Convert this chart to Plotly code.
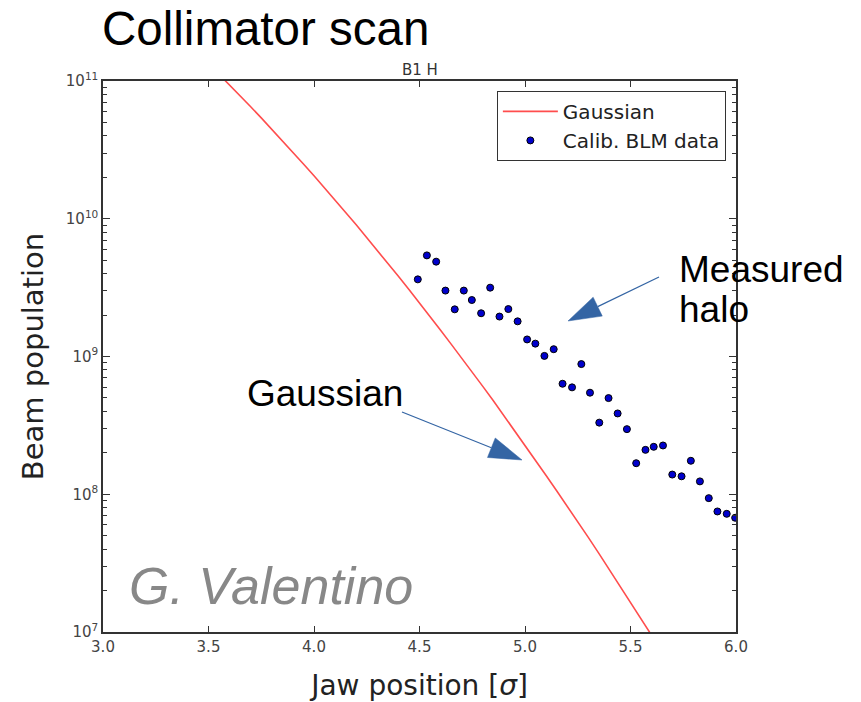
import math
import plotly.graph_objects as go

# ---------------- data ----------------
gauss_x = [3.55, 3.60, 3.65, 3.70, 3.75, 3.80, 3.85, 3.90, 3.95, 4.00, 4.05, 4.10,
           4.15, 4.20, 4.25, 4.30, 4.35, 4.40, 4.45, 4.50, 4.55, 4.60, 4.65, 4.70,
           4.75, 4.80, 4.85, 4.90, 4.95, 5.00, 5.05, 5.10, 5.15, 5.20, 5.25, 5.30,
           5.35, 5.40, 5.45, 5.50, 5.55, 5.60, 5.65]
gauss_y = [1.118e11, 9.37e10, 7.82e10, 6.50e10, 5.40e10, 4.47e10, 3.69e10, 3.04e10,
           2.50e10, 2.05e10, 1.68e10, 1.37e10, 1.11e10, 9.03e9, 7.31e9, 5.90e9,
           4.75e9, 3.82e9, 3.06e9, 2.45e9, 1.95e9, 1.55e9, 1.23e9, 9.76e8,
           7.70e8, 6.07e8, 4.77e8, 3.73e8, 2.92e8, 2.28e8, 1.77e8, 1.37e8,
           1.06e8, 8.21e7, 6.32e7, 4.86e7, 3.72e7, 2.84e7, 2.17e7, 1.65e7,
           1.25e7, 9.46e6, 7.14e6]

blm_x = [4.492, 4.535, 4.579, 4.623, 4.667, 4.710, 4.748, 4.792, 4.835, 4.879,
         4.921, 4.965, 5.010, 5.049, 5.092, 5.136, 5.178, 5.223, 5.267, 5.308,
         5.352, 5.396, 5.439, 5.483, 5.527, 5.571, 5.610, 5.654, 5.698, 5.742,
         5.786, 5.829, 5.871, 5.912, 5.956, 5.996]
blm_y = [3.63e9, 5.42e9, 4.88e9, 3.01e9, 2.20e9, 3.01e9, 2.57e9, 2.06e9, 3.16e9, 1.95e9,
         2.21e9, 1.80e9, 1.33e9, 1.24e9, 1.01e9, 1.13e9, 6.34e8, 5.97e8, 8.81e8, 5.46e8,
         3.31e8, 4.99e8, 3.86e8, 2.97e8, 1.68e8, 2.10e8, 2.21e8, 2.26e8, 1.39e8, 1.35e8,
         1.75e8, 1.24e8, 9.37e7, 7.50e7, 7.21e7, 6.75e7]

x_ticks = [3.0, 3.5, 4.0, 4.5, 5.0, 5.5, 6.0]
y_ticks = [1e7, 1e8, 1e9, 1e10, 1e11]
y_ticktext = ["10<sup>7</sup>", "10<sup>8</sup>", "10<sup>9</sup>",
              "10<sup>10</sup>", "10<sup>11</sup>"]

# ---------------- layout geometry ----------------
W, H = 861, 702
L, R, T, B = 103, 125, 81, 70
PW, PH = W - L - R, H - T - B


def paper(px, py):
    return (px - L) / PW, (H - B - py) / PH


fig = go.Figure()
fig.add_trace(go.Scatter(x=gauss_x, y=gauss_y, mode="lines", name="Gaussian",
                         line=dict(color="#ff4d4d", width=1.6)))
fig.add_trace(go.Scatter(x=blm_x, y=blm_y, mode="markers", name="Calib. BLM data",
                         marker=dict(color="#0000cc", size=7,
                                     line=dict(color="#000000", width=1))))

tickfont = dict(family="DejaVu Sans", size=15, color="#444444")
axcol = "#333333"

minor_vals = [m * 10 ** e for e in range(7, 11) for m in range(2, 10)]

fig.update_xaxes(range=[3, 6], tickvals=x_ticks, ticktext=[f"{v:.1f}" for v in x_ticks],
                 ticks="inside", ticklen=6, tickwidth=1, tickcolor=axcol,
                 showline=True, linecolor=axcol, linewidth=1.5, mirror="allticks",
                 showgrid=False, zeroline=False, tickfont=tickfont, automargin=False,
                 title=dict(text="Jaw position [<i>σ</i>]",
                            font=dict(family="DejaVu Sans", size=28, color="#222222"),
                            standoff=21))
fig.update_yaxes(type="log", range=[7, 11], tickvals=y_ticks, ticktext=y_ticktext,
                 ticks="inside", ticklen=7, tickwidth=1, tickcolor=axcol,
                 minor=dict(tickvals=minor_vals, ticks="inside", ticklen=4,
                            tickwidth=1, tickcolor=axcol, showgrid=False),
                 showline=True, linecolor=axcol, linewidth=1.5, mirror="allticks",
                 showgrid=False, zeroline=False, tickfont=tickfont, automargin=False,
                 title=dict(text="Beam population",
                            font=dict(family="DejaVu Sans", size=29, color="#222222"),
                            standoff=14))

fig.update_layout(
    width=W, height=H, autosize=False,
    margin=dict(l=L, r=R, t=T, b=B, pad=0, autoexpand=False),
    paper_bgcolor="white", plot_bgcolor="white",
    legend=dict(x=0.984, y=0.982, xanchor="right", yanchor="top",
                bgcolor="white", bordercolor=axcol, borderwidth=1,
                font=dict(family="DejaVu Sans", size=20, color="#222222"),
                itemwidth=55, tracegroupgap=0),
)

annotations = []


def text_at(txt, px, py, size, family="Liberation Sans", color="black",
            xanchor="left", italic=False):
    x, y = paper(px, py)
    if italic:
        txt = f"<i>{txt}</i>"
    annotations.append(dict(text=txt, x=x, y=y, xref="paper", yref="paper",
                            xanchor=xanchor, yanchor="middle", showarrow=False,
                            font=dict(family=family, size=size, color=color)))


text_at("Collimator scan", 100, 28, 47.5)
text_at("B1 H", 420, 69.5, 15, family="DejaVu Sans", color="#333333", xanchor="center")
text_at("Measured", 677, 269, 37)
text_at("halo", 677, 309, 37)
text_at("Gaussian", 245, 393, 37)
text_at("G. Valentino", 127, 585.5, 52, color="#888888", italic=True)
fig.update_layout(annotations=annotations)

# arrows (line + filled triangular head), drawn in paper coordinates
arrow_col = "#3465a4"
shapes = []


def arrow(tail, tip, head_len=33, head_w=21):
    dx, dy = tip[0] - tail[0], tip[1] - tail[1]
    n = math.hypot(dx, dy)
    ux, uy = dx / n, dy / n
    bx, by = tip[0] - head_len * ux, tip[1] - head_len * uy
    nx, ny = -uy, ux
    c1 = (bx + head_w / 2 * nx, by + head_w / 2 * ny)
    c2 = (bx - head_w / 2 * nx, by - head_w / 2 * ny)
    t0 = paper(*tail)
    b0 = paper(bx, by)
    shapes.append(dict(type="line", xref="paper", yref="paper",
                       x0=t0[0], y0=t0[1], x1=b0[0], y1=b0[1],
                       line=dict(color=arrow_col, width=1.2)))
    pts = [paper(*tip), paper(*c1), paper(*c2)]
    path = "M{:.5f},{:.5f} L{:.5f},{:.5f} L{:.5f},{:.5f} Z".format(
        pts[0][0], pts[0][1], pts[1][0], pts[1][1], pts[2][0], pts[2][1])
    shapes.append(dict(type="path", xref="paper", yref="paper", path=path,
                       fillcolor=arrow_col, line=dict(color=arrow_col, width=0.5)))


arrow((659, 277), (568, 321))
arrow((402, 412), (522, 460))
fig.update_layout(shapes=shapes)

fig.write_html("out.html")
